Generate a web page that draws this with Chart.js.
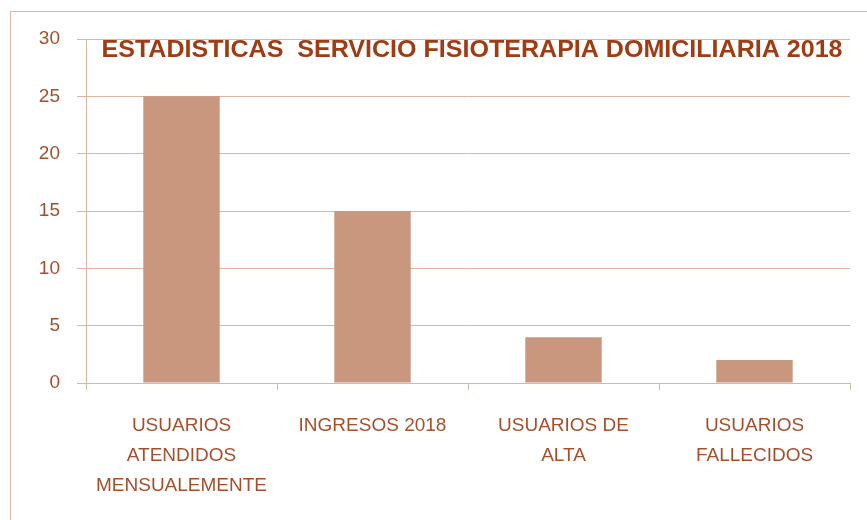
<!DOCTYPE html>
<html>
<head>
<meta charset="utf-8">
<script src="https://cdn.jsdelivr.net/npm/chart.js@4/dist/chart.umd.min.js"></script>
<style>
    html, body { margin: 0; padding: 0; background: #fff; overflow: hidden; }
    #wrap { position: relative; width: 867px; height: 520px; }
    #frame {
        position: absolute; left: 10px; top: 11px; width: 900px; height: 600px;
        border: 1.5px solid #DDB4A2; box-sizing: border-box;
    }
    canvas { position: absolute; left: 0; top: 0; }
</style>
</head>
<body>
<div id="wrap">
    <div id="frame"></div>
    <canvas id="chart" width="867" height="520"></canvas>
</div>
<script>
const chartTitle = "ESTADISTICAS  SERVICIO FISIOTERAPIA DOMICILIARIA 2018";
const categories = [
    ["USUARIOS", "ATENDIDOS", "MENSUALEMENTE"],
    ["INGRESOS 2018"],
    ["USUARIOS DE", "ALTA"],
    ["USUARIOS", "FALLECIDOS"]
];
const values = [25, 15, 4, 2];
const yTicks = [0, 5, 10, 15, 20, 25, 30];

const lineColor = '#DDB4A2';
const barColor = '#C9967E';
const textColor = '#A5502C';

// title sits inside the plot area, squeezed to the width of the original
const insideTitle = {
    id: 'insideTitle',
    afterDraw(chart) {
        const ctx = chart.ctx;
        const area = chart.chartArea;
        ctx.save();
        ctx.font = 'bold 24px "Liberation Sans", Arial, sans-serif';
        ctx.fillStyle = '#A03C14';
        ctx.textAlign = 'center';
        ctx.textBaseline = 'middle';
        const w = ctx.measureText(chartTitle).width;
        const sx = 741 / w;
        const cx = (area.left + area.right) / 2 + 4;
        ctx.translate(cx, area.top + 11);
        ctx.scale(sx, 1);
        ctx.fillText(chartTitle, 0, 0);
        ctx.restore();
    }
};

new Chart(document.getElementById('chart').getContext('2d'), {
    type: 'bar',
    data: {
        labels: categories,
        datasets: [{
            data: values,
            backgroundColor: barColor,
            barPercentage: 0.4,
            categoryPercentage: 1
        }]
    },
    options: {
        responsive: false,
        animation: false,
        layout: { padding: { left: 0, right: 17, top: 39, bottom: 0 } },
        plugins: {
            legend: { display: false },
            title: { display: false },
            tooltip: { enabled: false }
        },
        scales: {
            x: {
                grid: { drawOnChartArea: false, drawTicks: true, tickLength: 7, color: lineColor },
                border: { color: lineColor, width: 1 },
                ticks: {
                    color: textColor,
                    font: { family: '"Liberation Sans", Arial, sans-serif', size: 19, lineHeight: 1.58 },
                    padding: 21,
                    maxRotation: 0,
                    autoSkip: false
                },
                afterFit(scale) { scale.height = 137; }
            },
            y: {
                min: 0,
                max: 30,
                afterBuildTicks(scale) { scale.ticks = yTicks.map(v => ({ value: v })); },
                grid: { color: lineColor, tickLength: 9 },
                border: { color: lineColor, width: 1 },
                ticks: {
                    color: textColor,
                    font: { family: '"Liberation Sans", Arial, sans-serif', size: 19 },
                    padding: 17
                },
                afterFit(scale) { scale.width = 86; }
            }
        }
    },
    plugins: [insideTitle]
});
</script>
</body>
</html>
